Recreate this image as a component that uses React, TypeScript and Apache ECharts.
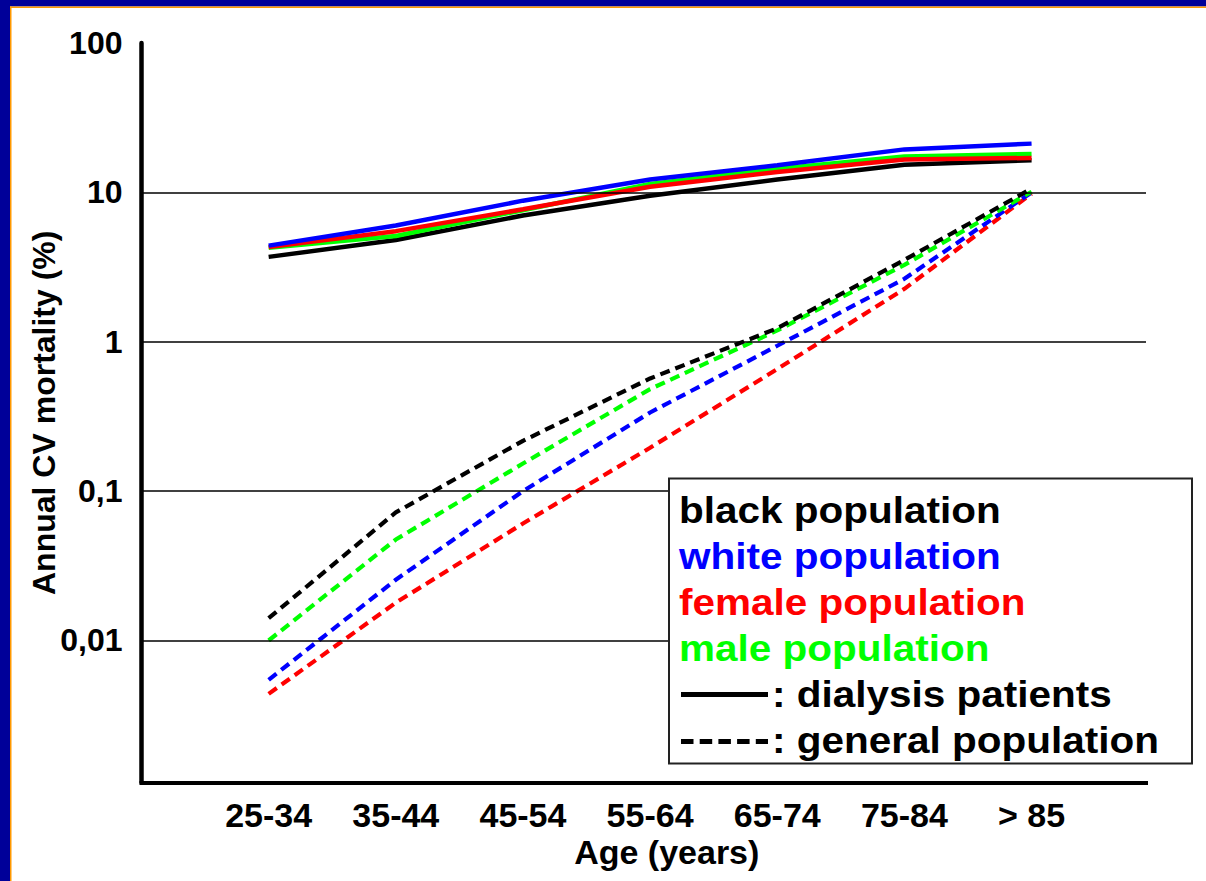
import React, { useEffect, useRef } from 'react';
import * as echarts from 'echarts';

const FONT = "'Liberation Sans', Arial, Helvetica, sans-serif";

const categories = ['25-34', '35-44', '45-54', '55-64', '65-74', '75-84', '> 85'];
const yTickValues = [0.01, 0.1, 1, 10, 100];
const yTickLabels = ['0,01', '0,1', '1', '10', '100'];
const gridValues = [10, 1, 0.1, 0.01];

// Dialysis patients (solid lines)
const dialysisBlack = [3.7, 4.8, 7.0, 9.5, 12.2, 15.3, 16.4];
const dialysisWhite = [4.4, 6.0, 8.8, 12.2, 15.2, 19.4, 21.2];
const dialysisFemale = [4.3, 5.5, 7.7, 10.9, 13.7, 16.6, 17.0];
const dialysisMale = [4.25, 5.1, 7.6, 11.4, 14.4, 17.4, 18.1];

// General population (dashed lines)
const generalBlack = [0.0141, 0.072, 0.217, 0.568, 1.23, 3.53, 10.6];
const generalWhite = [0.00545, 0.0255, 0.1, 0.336, 0.94, 2.64, 10.0];
const generalFemale = [0.00439, 0.0179, 0.0607, 0.195, 0.656, 2.26, 9.8];
const generalMale = [0.01, 0.0474, 0.153, 0.482, 1.19, 3.27, 10.1];

const legendEntries = [
  { text: 'black population', color: '#000000' },
  { text: 'white population', color: '#0000FF' },
  { text: 'female population', color: '#FF0000' },
  { text: 'male population', color: '#00FF00' },
];

const COLORS = { black: '#000000', white: '#0000FF', female: '#FF0000', male: '#00FF00' };

function toPairs(values: number[]) {
  return values.map((v, i) => [i, v]);
}

function solid(name: string, values: number[], color: string) {
  return {
    name,
    type: 'line',
    data: toPairs(values),
    symbol: 'none',
    lineStyle: { color, width: 4.5, type: 'solid' },
    itemStyle: { color },
    z: 4,
  };
}

function dashed(name: string, values: number[], color: string) {
  return {
    name,
    type: 'line',
    data: toPairs(values),
    symbol: 'none',
    lineStyle: { color, width: 4.2, type: [10, 6] },
    itemStyle: { color },
    z: 3,
  };
}

function yLabel(v: number) {
  const idx = yTickValues.findIndex((t) => Math.abs(Math.log10(v) - Math.log10(t)) < 1e-6);
  return idx >= 0 ? yTickLabels[idx] : '';
}

function xLabel(v: number) {
  const i = Math.round(v);
  return Math.abs(v - i) < 1e-6 && i >= 0 && i < categories.length ? categories[i] : '';
}

export default function App() {
  const ref = useRef<HTMLDivElement>(null);

  useEffect(() => {
    document.body.style.margin = '0';
    const chart = echarts.init(ref.current as HTMLDivElement, null, { renderer: 'svg' });

    const series: any[] = [
      {
        name: 'gridlines',
        type: 'line',
        data: [],
        symbol: 'none',
        z: 1,
        markLine: {
          silent: true,
          symbol: ['none', 'none'],
          label: { show: false },
          lineStyle: { color: '#000', width: 1.5, type: 'solid' },
          data: gridValues.map((v) => ({ yAxis: v })),
        },
      },
      dashed('female population – general population', generalFemale, COLORS.female),
      dashed('white population – general population', generalWhite, COLORS.white),
      dashed('male population – general population', generalMale, COLORS.male),
      dashed('black population – general population', generalBlack, COLORS.black),
      solid('black population – dialysis patients', dialysisBlack, COLORS.black),
      solid('male population – dialysis patients', dialysisMale, COLORS.male),
      solid('female population – dialysis patients', dialysisFemale, COLORS.female),
      solid('white population – dialysis patients', dialysisWhite, COLORS.white),
    ];

    const legendX = 669;
    const legendY = 478.5;
    const lineStep = 46;
    const firstMid = 510.5;
    const textStyle = (text: string, fill: string) => ({
      text,
      fill,
      fontSize: 37,
      fontWeight: 'bold',
      fontFamily: FONT,
      align: 'left',
      verticalAlign: 'middle',
    });

    const graphic: any[] = [
      // frame
      { type: 'rect', z: 100, shape: { x: 0, y: 0, width: 1206, height: 6.5 }, style: { fill: '#000099' } },
      { type: 'rect', z: 100, shape: { x: 10, y: 6.5, width: 1196, height: 1.5 }, style: { fill: '#FF9900' } },
      { type: 'rect', z: 100, shape: { x: 0, y: 0, width: 10, height: 881 }, style: { fill: '#000099' } },
      { type: 'rect', z: 100, shape: { x: 10, y: 6.5, width: 1.5, height: 874.5 }, style: { fill: '#FF9900' } },
      // legend box
      {
        type: 'rect',
        z: 100,
        shape: { x: legendX, y: legendY, width: 523, height: 285 },
        style: { fill: '#ffffff', stroke: '#222222', lineWidth: 2 },
      },
      ...legendEntries.map((e, i) => ({
        type: 'text',
        z: 101,
        x: 679,
        y: firstMid + i * lineStep,
        scaleX: 1.095,
        style: textStyle(e.text, e.color),
      })),
      {
        type: 'line',
        z: 101,
        shape: { x1: 681, y1: 694.5, x2: 768, y2: 694.5 },
        style: { stroke: '#000', lineWidth: 5 },
      },
      {
        type: 'text',
        z: 101,
        x: 772,
        y: firstMid + 4 * lineStep,
        scaleX: 1.095,
        style: textStyle(': dialysis patients', '#000'),
      },
      {
        type: 'line',
        z: 101,
        shape: { x1: 681, y1: 741.5, x2: 768, y2: 741.5 },
        style: { stroke: '#000', lineWidth: 5, lineDash: [12.5, 6.2] },
      },
      {
        type: 'text',
        z: 101,
        x: 772,
        y: firstMid + 5 * lineStep,
        scaleX: 1.095,
        style: textStyle(': general population', '#000'),
      },
    ];

    chart.setOption({
      animation: false,
      backgroundColor: '#ffffff',
      grid: { left: 141.5, right: 60, top: 43, bottom: 98.5, containLabel: false },
      xAxis: {
        type: 'value',
        min: -1,
        max: 6.9,
        interval: 1,
        axisLine: { show: true, onZero: false, lineStyle: { color: '#000', width: 4, cap: 'square' } },
        axisTick: { show: false },
        splitLine: { show: false },
        axisLabel: {
          customValues: categories.map((_, i) => i),
          formatter: (v: number) => xLabel(v),
          fontSize: 34,
          fontWeight: 'bold',
          fontFamily: FONT,
          color: '#000',
          margin: 15,
        },
        name: 'Age (years)',
        nameLocation: 'middle',
        nameGap: 52,
        nameMoveOverlap: false,
        nameTextStyle: {
          fontSize: 34,
          fontWeight: 'bold',
          fontFamily: FONT,
          color: '#000',
          padding: [0, 0, 0, 46],
        },
      },
      yAxis: {
        type: 'log',
        logBase: 10,
        min: 0.00112,
        max: 100,
        axisLine: { show: true, onZero: false, lineStyle: { color: '#000', width: 4.5 } },
        axisTick: { show: false },
        splitLine: { show: false },
        minorSplitLine: { show: false },
        axisLabel: {
          customValues: yTickValues,
          formatter: (v: number) => yLabel(v),
          fontSize: 32,
          fontWeight: 'bold',
          fontFamily: FONT,
          color: '#000',
          margin: 19,
          padding: [10, 0, 0, 0],
        },
        name: 'Annual CV mortality (%)',
        nameLocation: 'middle',
        nameGap: 82,
        nameMoveOverlap: false,
        nameRotate: 90,
        nameTextStyle: {
          fontSize: 32,
          fontWeight: 'bold',
          fontFamily: FONT,
          color: '#000',
        },
      },
      series,
      graphic,
    });

    return () => chart.dispose();
  }, []);

  return <div ref={ref} style={{ width: 1206, height: 881 }} />;
}
